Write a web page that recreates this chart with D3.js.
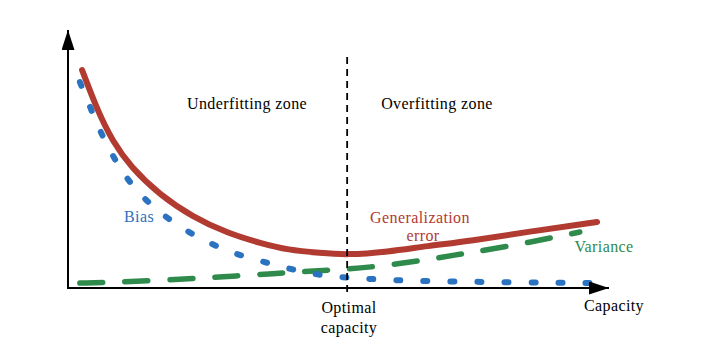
<!DOCTYPE html>
<html>
<head>
<meta charset="utf-8">
<script src="https://cdn.jsdelivr.net/npm/d3@7"></script>
<style>
  body { margin: 0; background: #fff; }
</style>
</head>
<body>
<script>
// capacity (x) and value (y), arbitrary units 0..10
const errorX = [0.26, 0.54, 0.83, 1.16, 1.70, 2.31, 2.94, 3.55, 4.07, 4.66, 5.16, 5.90, 6.64, 7.43, 8.60, 9.78];
const errorY = [8.45, 6.90, 5.66, 4.69, 3.60, 2.75, 2.13, 1.74, 1.47, 1.36, 1.28, 1.40, 1.63, 1.82, 2.21, 2.56];

const biasX = [0.22, 0.43, 0.65, 0.91, 1.20, 1.61, 2.07, 2.53, 3.03, 3.55, 4.10, 4.62, 5.21, 6.28, 7.93, 9.65];
const biasY = [7.98, 6.90, 5.81, 4.81, 3.91, 3.06, 2.36, 1.82, 1.36, 1.05, 0.74, 0.50, 0.39, 0.27, 0.23, 0.19];

const varianceX = [0.22, 0.91, 2.20, 3.12, 3.97, 4.84, 5.53, 6.64, 7.38, 8.30, 9.46];
const varianceY = [0.19, 0.23, 0.35, 0.47, 0.58, 0.70, 0.78, 1.09, 1.36, 1.67, 2.17];

const optimalCapacity = 5.16;

const width = 702, height = 351;
const x = d3.scaleLinear().domain([0, 10]).range([68, 609]);
const y = d3.scaleLinear().domain([0, 10]).range([288, 30]);

const svg = d3.select("body").append("svg")
    .attr("width", width)
    .attr("height", height);

// arrow heads
svg.append("defs").append("marker")
    .attr("id", "arrow")
    .attr("viewBox", "0 0 20 13")
    .attr("refX", 20).attr("refY", 6.5)
    .attr("markerWidth", 20).attr("markerHeight", 13)
    .attr("markerUnits", "userSpaceOnUse")
    .attr("orient", "auto")
    .append("path")
    .attr("d", "M0,0L20,6.5L0,13Z")
    .attr("fill", "#000");

const line = d3.line()
    .x(d => x(d[0]))
    .y(d => y(d[1]))
    .curve(d3.curveBasis);

// curves
svg.append("path")
    .datum(d3.zip(varianceX, varianceY))
    .attr("d", line)
    .attr("fill", "none")
    .attr("stroke", "#2e8b4b")
    .attr("stroke-width", 5.5)
    .attr("stroke-linecap", "round")
    .attr("stroke-dasharray", "23 22");

svg.append("path")
    .datum(d3.zip(biasX, biasY))
    .attr("d", line)
    .attr("fill", "none")
    .attr("stroke", "#2b72c0")
    .attr("stroke-width", 6)
    .attr("stroke-linecap", "round")
    .attr("stroke-dasharray", "4 23");

svg.append("path")
    .datum(d3.zip(errorX, errorY))
    .attr("d", line)
    .attr("fill", "none")
    .attr("stroke", "#b13a31")
    .attr("stroke-width", 6)
    .attr("stroke-linecap", "round");

// axes
svg.append("line")
    .attr("x1", x(0)).attr("y1", y(0) + 1)
    .attr("x2", x(0)).attr("y2", y(10))
    .attr("stroke", "#000").attr("stroke-width", 2)
    .attr("marker-end", "url(#arrow)");
svg.append("line")
    .attr("x1", x(0) - 1).attr("y1", y(0))
    .attr("x2", x(10)).attr("y2", y(0))
    .attr("stroke", "#000").attr("stroke-width", 2)
    .attr("marker-end", "url(#arrow)");

// optimal capacity divider
svg.append("line")
    .attr("x1", x(optimalCapacity)).attr("y1", y(8.95))
    .attr("x2", x(optimalCapacity)).attr("y2", y(-0.2))
    .attr("stroke", "#000")
    .attr("stroke-width", 1.8)
    .attr("stroke-dasharray", "7 5");

// labels
const label = (tx, ty, str, color) => svg.append("text")
    .attr("x", tx).attr("y", ty)
    .attr("text-anchor", "middle")
    .attr("font-family", "'Liberation Serif', 'DejaVu Serif', serif")
    .attr("font-size", 16)
    .attr("letter-spacing", 0.4)
    .attr("fill", color || "#000")
    .text(str);

label(247, 109, "Underfitting zone");
label(437, 109, "Overfitting zone");
label(139, 222, "Bias", "#2b72c0");
label(420, 223, "Generalization", "#b13a31");
label(423, 241, "error", "#b13a31");
label(604, 252, "Variance", "#2e8b4b");
label(349, 313, "Optimal");
label(349, 333, "capacity");
label(614, 311, "Capacity");
</script>
</body>
</html>
